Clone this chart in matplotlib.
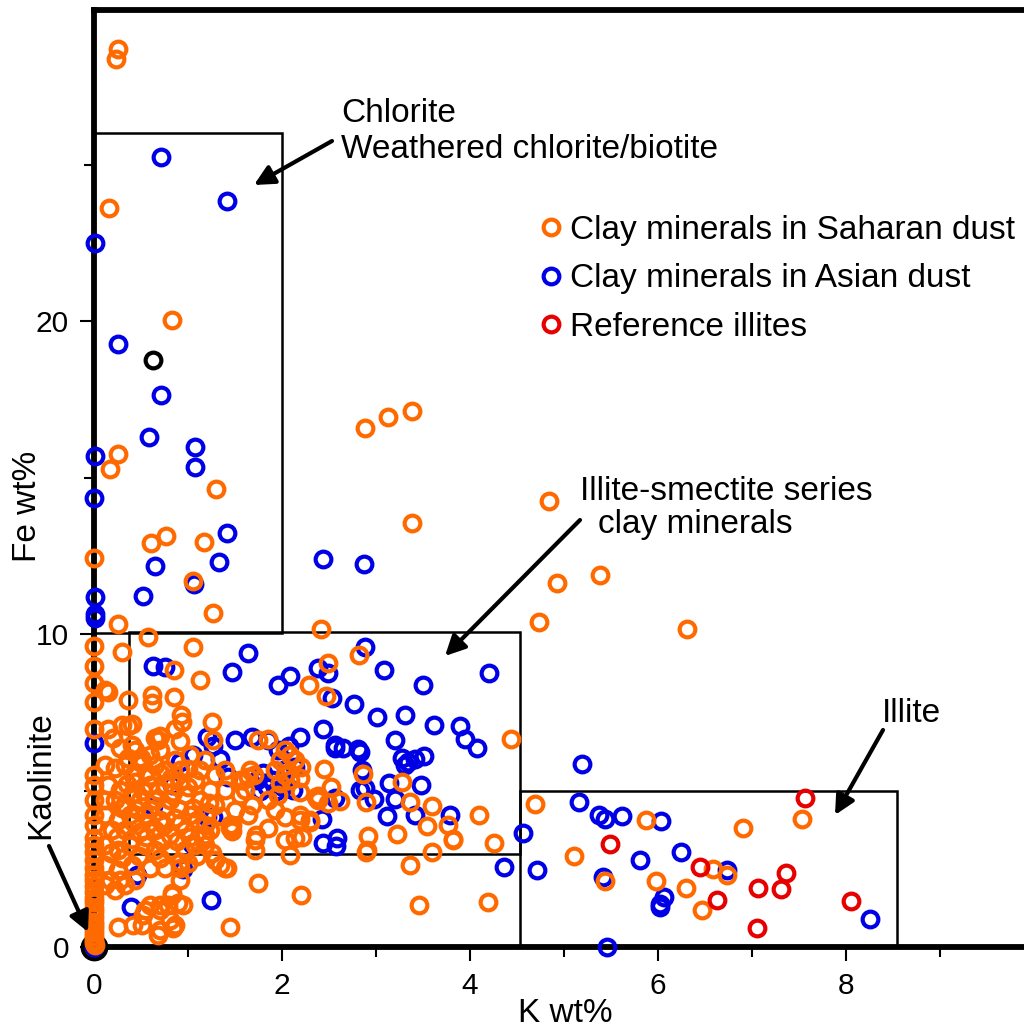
import matplotlib
matplotlib.use("Agg")
import matplotlib.pyplot as plt
from matplotlib.lines import Line2D
from matplotlib.patches import Rectangle

plt.rcParams['font.family'] = ['Liberation Sans', 'DejaVu Sans']

asian = [(.71,25.24),(1.41,23.83),(.01,22.5),(.26,19.27),(.71,17.64),(.58,16.3),(.01,15.7),(1.07,15.97),(1.07,15.34),(0,14.35),
(1.41,13.23),(1.33,12.3),(.65,12.17),(2.44,12.4),(2.87,12.24),(1.06,11.6),(.52,11.21),(.01,11.18),(.01,10.64),(.01,10.51),
(.63,8.98),(.76,8.95),(1.64,9.39),(1.47,8.79),(1.96,8.37),(2.09,8.66),(2.38,8.91),(2.49,8.75),(2.88,9.58),(3.09,8.85),
(3.5,8.37),(4.2,8.75),(2.53,7.96),(2.77,7.76),(3.01,7.35),(3.31,7.41),(3.62,7.09),(3.89,7.06),(3.95,6.65),(4.07,6.36),
(2.44,6.96),(2.19,6.71),(1.68,6.71),(1.5,6.61),(1.2,6.7),(1.27,6.42),(1.34,6.0),(1.43,5.43),(0,6.52),(3.2,6.61),
(2.56,6.45),(2.56,6.36),(2.65,6.36),(2.81,6.32),(2.83,6.23),(3.28,6.04),(3.51,6.1),(3.41,6.0),(3.34,5.91),(3.31,5.81),
(2.85,5.65),(3.14,5.24),(3.48,5.18),(2.83,5.02),(2.88,5.08),(2.56,4.76),(2.98,4.73),(3.2,4.73),(2.37,4.76),(3.12,4.17),
(3.41,4.22),(3.79,4.22),(2.43,4.09),(2.44,3.33),(2.59,3.49),(2.57,3.23),(4.56,3.64),(4.36,2.56),(4.71,2.46),
(5.19,5.85),(5.16,4.63),(5.37,4.22),(5.44,4.09),(5.62,4.19),(6.03,4.03),(5.81,2.78),(6.24,3.04),(6.73,2.46),(5.41,2.24),
(6.06,1.6),(6.02,1.37),(6.02,1.28),(8.26,.89),(5.46,0.0),(.39,1.28),(.46,2.3),(1.24,1.5),(0,0),
(1.85,6.61),(1.96,6.3),(2.07,6.42),(2.04,5.68),(2.14,5.75),(1.73,5.34),(1.8,5.55),(1.84,5.1),(1.89,5.34),(1.77,5.0),
(1.94,5.0),(2.12,5.02),(2.01,5.1),(1.2,4.15),(1.27,4.15),(1.04,3.3),(.95,2.5),(.63,4.5),(.83,5.18),(1.05,6.13),(.91,5.9)]

saharan = [(.26,28.69),(.23,28.37),(.16,23.61),(.83,20.03),(.26,15.75),(.17,15.27),(2.88,16.58),(3.13,16.93),(3.38,17.12),(1.3,14.63),
(4.84,14.25),(3.38,13.55),(.77,13.13),(.61,12.91),(1.17,12.94),(0,12.43),(1.05,11.69),(4.93,11.63),(5.38,11.88),(1.27,10.67),
(.26,10.32),(4.73,10.38),(6.31,10.16),(2.41,10.16),(.57,9.9),(0,9.62),(.3,9.42),(1.05,9.58),(2.82,9.33),(2.49,9.07),
(0,8.98),(.85,8.85),(1.13,8.53),(2.29,8.37),(2.47,8.02),(0,8.45),(.12,8.21),(.15,8.15),(.36,7.89),(.62,8.05),
(.62,7.8),(.85,7.99),(.93,7.42),(.94,7.19),(1.26,7.19),(1.27,6.6),(0,7.83),(0,6.96),(.15,6.96),(.2,6.68),
(.3,7.09),(.36,7.07),(.4,7.13),(.65,6.68),(.7,6.74),(.68,6.61),(.86,6.96),(.91,6.58),(.4,6.45),(4.44,6.65),
(2.45,5.69),(2.86,5.53),(3.28,5.27),(2.52,5.11),(2.36,4.79),(2.49,4.6),(2.62,4.66),(2.89,4.63),(3.36,4.63),(3.6,4.5),
(4.1,4.22),(3.54,3.87),(3.77,3.9),(3.82,3.46),(3.82,3.41),(4.26,3.33),(2.92,3.55),(3.22,3.6),(2.89,3.02),(3.6,3.05),
(3.36,2.62),(3.46,1.34),(4.19,1.44),(2.2,1.66),(2.21,3.5),(2.19,4.06),(2.2,5.75),(2.19,5.4),(2.19,4.96),(2.3,4.0),
(4.69,4.57),(5.11,2.91),(5.44,2.11),(5.87,4.06),(5.98,2.11),(6.3,1.88),(6.47,1.18),(6.59,2.49),(6.73,2.3),(6.9,3.8),(7.53,4.09),
(0,5.5),(0,5.18),(0,4.7),(0,4.22),(0,3.9),(0,3.48),
(0,3.26),(0,3.04),(0,2.78),(0,2.52),(0,2.3),(0,2.14),(0,1.95),(0,1.76),(0,1.57),(0,1.44),
(0,1.25),(0,1.12),(0,.96),(0,.8),(0,.7),(0,.61),(0,.48),(0,.35),(0,.22),(0,.13),(.01,.06),
(.28,6.36),(.44,6.29),(.6,6.13),(.7,6.29),(.86,5.97),(.12,5.81),(.22,5.72),(.33,5.81),(.49,5.91),(.65,5.81),
(.76,5.65),(.91,5.65),(1.02,6.13),(1.18,5.97),(1.13,5.65),(1.29,5.5),(1.39,5.65),(1.55,5.34),(1.64,5.43),(1.66,5.65),
(.15,5.18),(.28,5.02),(.44,5.27),(.6,5.18),(.76,5.18),(.91,5.27),(1.07,5.34),(1.23,5.02),(1.39,5.02),(1.55,4.86),
(.12,4.7),(.22,4.7),(.33,4.54),(.49,4.7),(.65,4.7),(.81,4.7),(.97,4.86),(1.13,4.7),(1.29,4.54),(1.5,4.38),
(.12,4.22),(.26,4.06),(.38,4.22),(.54,4.22),(.7,4.06),(.86,4.12),(1.02,4.22),(1.18,3.9),(1.47,3.9),(1.45,3.8),
(.19,3.74),(.33,3.74),(.49,3.67),(.65,3.74),(.81,3.58),(.97,3.74),(1.18,3.58),(1.23,3.74),
(.12,3.26),(.26,3.1),(.38,3.26),(.54,3.26),(.65,3.1),(.81,3.1),(.97,3.1),(1.07,3.26),(1.18,3.26),(1.26,3.0),
(1.29,2.78),(1.34,2.62),(1.39,2.52),(1.41,2.52),(1.16,3.48),
(.12,2.62),(.26,2.46),(.4,2.62),(.6,2.52),(.76,2.52),(.91,2.72),(.91,2.52),(.28,2.14),(.44,2.14),(.12,1.98),
(.22,1.82),(.33,1.98),(.17,2.14),(.91,2.14),(.83,1.66),(.83,1.73),(.7,1.34),(.6,1.34),(.52,1.02),(.54,1.18),
(.7,1.18),(.79,1.34),(.7,.54),(.81,.86),(.86,.7),(.95,1.34),(.89,1.41),(.51,.7),(.68,.38),(.84,.61),
(.26,.64),(.41,.7),(1.45,.64),(1.74,2.04),(1.45,3.9),(1.47,3.7),(1.64,4.22),(1.71,3.1),(1.71,3.42),(1.93,4.38),
(1.85,3.8),(1.72,3.58),(2.09,2.94),(2.03,3.42),(2.14,3.48),(2.19,4.22),(2.3,4.06),(1.68,4.54),(1.85,4.7),(1.96,4.86),
(1.61,5.02),(1.59,5.34),(1.74,6.6),(1.85,6.65),(2.03,6.29),(2.09,6.13),(1.98,5.97),(2.14,5.97),(1.93,5.65),(2.03,5.5),
(1.98,5.24),(2.09,5.34),(1.7,5.5),(2.03,4.15),(2.38,4.82),(2.38,4.7),(2.9,3.1),
(.36,6.05),(.5,6.05),(.55,5.6),(.42,5.5),(.6,5.45),(.35,5.2),(.52,5.0),(.68,5.0),(.84,4.95),(1.0,5.1),
(.4,4.9),(.45,4.4),(.6,4.4),(.75,4.45),(.9,4.4),(1.05,4.45),(1.2,4.3),(.3,4.45),(.42,4.0),(.58,3.95),
(.75,3.9),(.92,3.95),(1.1,4.05),(.25,3.5),(.4,3.45),(.55,3.5),(.72,3.4),(.88,3.4),(1.02,3.5),(.18,3.0),
(.3,2.85),(.48,2.9),(.7,2.85),(1.0,5.7),(.82,5.4),(.7,5.55),(1.0,2.7),(1.1,2.9),(1.22,4.6),(1.35,4.2)]

reference = [(7.56,4.76),(5.49,3.29),(6.45,2.56),(7.05,.61),(7.06,1.88),(7.31,1.85),(7.36,2.36),(6.63,1.5),(8.05,1.47)]
unclassified = [(.63,18.75),(0,0)]

x_major_labels = [0, 2, 4, 6, 8]
x_minor = [1, 3, 5, 7, 9]
y_major_labels = [0, 10, 20]
y_minor = [5, 15, 25]

ORANGE, BLUE, RED = '#ff6a00', '#0000e6', '#e60000'

fig = plt.figure(figsize=(10.24, 10.28), dpi=100)
W, H = 1024, 1028
ax = fig.add_axes([94/W, 1-947/H, (W-94)/W, (947-10)/H])
ax.set_xlim(0, 9.894)
ax.set_ylim(0, 29.94)

for (x0, y0, w, h) in [(0, 10.03, 2.0, 15.98), (.37, 2.97, 4.16, 7.09), (4.53, 0, 4.01, 5.0)]:
    ax.add_patch(Rectangle((x0, y0), w, h, fill=False, ec='black', lw=1.8, zorder=1))

ms, mew = 11.3, 3.0
def rings(pts, color, z, size=ms, width=mew):
    xs = [p[0] for p in pts]
    ys = [p[1] for p in pts]
    return ax.plot(xs, ys, ls='none', marker='o', mfc='none', mec=color, ms=size, mew=width,
                   clip_on=False, zorder=z)[0]

rings(unclassified, 'black', 3)
rings(unclassified[1:], 'black', 3, size=17, width=3)
rings(asian, BLUE, 4)
rings(saharan, ORANGE, 5)
rings(reference, RED, 6)

for s in ['left', 'bottom', 'top']:
    ax.spines[s].set_linewidth(4.2)
    ax.spines[s].set_zorder(2)
ax.spines['right'].set_visible(False)

ax.set_xticks(x_major_labels)
ax.set_xticks(x_minor, minor=True)
ax.set_yticks(y_major_labels)
ax.set_yticks(y_minor, minor=True)
ax.tick_params(axis='both', which='major', length=10, width=1.5, labelsize=21.5, pad=8)
ax.tick_params(axis='both', which='minor', length=7, width=1.5)
ax.tick_params(axis='x', which='major', pad=8)

fs = 24
fig.text(565/W, 1-1013/H, 'K wt%', ha='center', va='center', fontsize=24)
fig.text(28/W, 1-506/H, 'Fe wt%', ha='center', va='center', rotation=90, fontsize=24)

def label(px, py, s, **kw):
    fig.text(px/W, 1-py/H, s, va='center', fontsize=kw.pop('fontsize', fs), **kw)

label(341, 113, 'Chlorite')
label(341, 149, 'Weathered chlorite/biotite')
label(580, 491, 'Illite-smectite series')
label(598, 525, 'clay minerals')
label(882, 713, 'Illite')
label(41, 775, 'Kaolinite', rotation=90, ha='center')

def arrow(x0, y0, x1, y1):
    ax.annotate('', xy=(x1, H-y1), xytext=(x0, H-y0), xycoords='figure pixels', textcoords='figure pixels',
                arrowprops=dict(arrowstyle='-|>,head_length=1.2,head_width=0.6', color='black', lw=3.0,
                                shrinkA=0, shrinkB=0), annotation_clip=False, zorder=7)

arrow(332, 141, 254, 185)
arrow(580, 520, 445, 656)
arrow(883, 730, 835, 815)
arrow(49, 846, 88, 932)

handles = [Line2D([], [], ls='none', marker='o', mfc='none', mec=c, ms=ms, mew=mew) for c in (ORANGE, BLUE, RED)]
ax.legend(handles, ['Clay minerals in Saharan dust', 'Clay minerals in Asian dust', 'Reference illites'],
          loc='upper left', bbox_to_anchor=(541/W, 1-215/H), bbox_transform=fig.transFigure, frameon=False,
          fontsize=fs, handlelength=0.6, handletextpad=0.28, labelspacing=0.52, borderpad=0, borderaxespad=0)

fig.savefig('out.png', dpi=100)
